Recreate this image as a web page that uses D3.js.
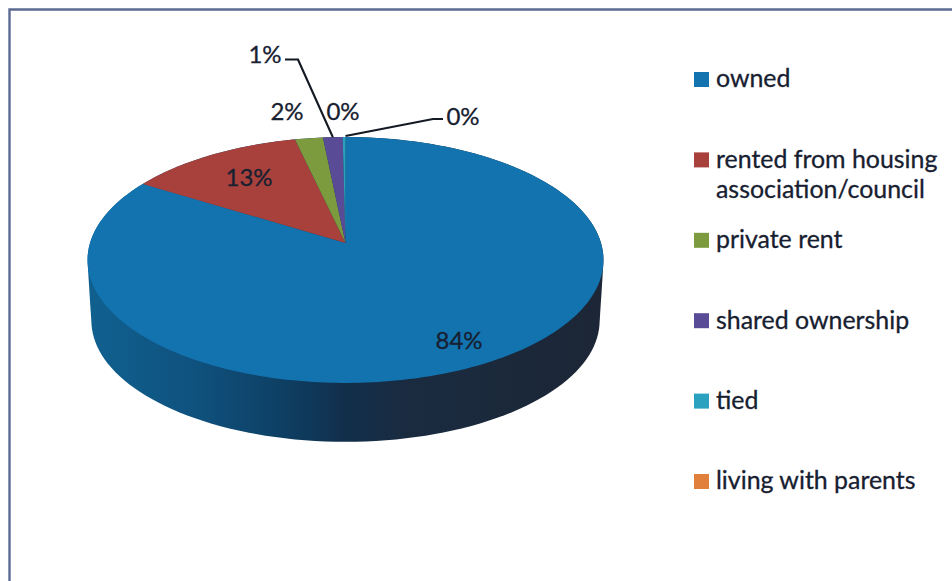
<!DOCTYPE html>
<html>
<head>
<meta charset="utf-8">
<script src="https://cdn.jsdelivr.net/npm/d3@7/dist/d3.min.js"></script>
<style>
html,body{margin:0;padding:0;background:#fff;overflow:hidden}
text{font-family:Lato,"Open Sans",sans-serif;fill:#172030;stroke:#172030;stroke-width:0.3px}
</style>
</head>
<body>
<svg id="chart" width="952" height="581"></svg>
<script>
// data
const categories = ["owned","rented from housing association/council","private rent","shared ownership","tied","living with parents"];
const legendLines = [["owned"],["rented from housing","association/council"],["private rent"],["shared ownership"],["tied"],["living with parents"]];
const values = [83.8,12.6,2.0,1.4,0.2,0.0];
const colors = ["#1273af","#a8403c","#7b9b3e","#5a4b96","#2aa2bf","#e0803a"];

// layout
const W=952,H=581;
const svg=d3.select("#chart");
const cx=345.5, apexY=243, persp=0.138, rxP=255.5, ryP=120.6, depth=61, shrink=0.985;
const project=(a,s=1,dy=0)=>{
  const X=Math.sin(a),Y=Math.cos(a),d=1+persp*Y;
  return [cx+s*rxP*X/d, apexY+dy-s*ryP*Y/d];
};
const pie=d3.pie().value(d=>d).sort(null);
const arcs=pie(values);
const fullRange=d3.range(0,361,2).map(d=>d*Math.PI/180);

// border
svg.append("path").attr("d",d3.line()([[W,9.5],[9.5,9.5],[9.5,H]]))
  .attr("fill","none").attr("stroke","#5b6b92").attr("stroke-width",2.4);

// wall gradient
const defs=svg.append("defs");
const grad=defs.append("linearGradient").attr("id","wall").attr("gradientUnits","userSpaceOnUse")
  .attr("x1",cx-rxP).attr("x2",cx+rxP).attr("y1",0).attr("y2",0);
[[0,"#10608f"],[0.2,"#0f527f"],[0.38,"#0e3f63"],[0.5,"#122f4b"],[0.62,"#1a2b40"],[1,"#1c2636"]]
  .forEach(([o,c])=>grad.append("stop").attr("offset",o).attr("stop-color",c));

// wall + top faces, from the pie angles
const hull=d3.polygonHull(fullRange.map(a=>project(a)).concat(fullRange.map(a=>project(a,shrink,depth))));
svg.append("path").attr("d",d3.line().curve(d3.curveLinearClosed)(hull)).attr("fill","url(#wall)");

const sliceLine=d3.line();
svg.append("g").selectAll("path").data(arcs).join("path")
  .attr("fill",(d,i)=>colors[i])
  .attr("d",d=>{
    const n=Math.max(2,Math.ceil((d.endAngle-d.startAngle)/0.02));
    const pts=d3.range(n+1).map(k=>project(d.startAngle+(d.endAngle-d.startAngle)*k/n));
    return sliceLine([[cx,apexY],...pts])+"Z";
  });

// leader lines and data labels
const fmt=v=>d3.format(".0f")(v)+"%";
const mid=d=>(d.startAngle+d.endAngle)/2;
const labelPlace=[
  d=>[459,340],
  d=>[249,177],
  d=>[287,111],
  d=>[265,54],
  d=>[343,111],
  d=>[463,116]
];
const leaders=[
  null,null,null,
  d=>{const p=project(mid(d));return [[285,59.5],[298,59.5],[p[0],p[1]]];},
  null,
  d=>{const p=project(d.startAngle);return [[p[0],p[1]-1],[433,119],[443,119]];}
];
svg.append("g").selectAll("path").data(arcs.filter((d,i)=>leaders[i])).join("path")
  .attr("d",d=>d3.line()(leaders[d.index](d)))
  .attr("fill","none").attr("stroke","#141a24").attr("stroke-width",2.2);
svg.append("g").selectAll("text").data(arcs).join("text")
  .attr("transform",d=>`translate(${labelPlace[d.index](d)})`)
  .attr("text-anchor","middle").attr("dy","0.36em")
  .attr("font-size",24).text(d=>fmt(d.value));

// legend
const yLegend=d3.scalePoint().domain(categories).range([79,481]);
const lg=svg.append("g").selectAll("g").data(categories).join("g")
  .attr("transform",d=>`translate(694,${yLegend(d)})`);
lg.append("rect").attr("x",0).attr("y",-7).attr("width",15).attr("height",15)
  .attr("fill",(d,i)=>colors[i]);
lg.each(function(d,i){
  d3.select(this).selectAll("text").data(legendLines[i]).join("text")
    .attr("x",22).attr("y",(t,k)=>k*30).attr("dy","0.34em")
    .attr("font-size",24.9).text(t=>t);
});
</script>
</body>
</html>
